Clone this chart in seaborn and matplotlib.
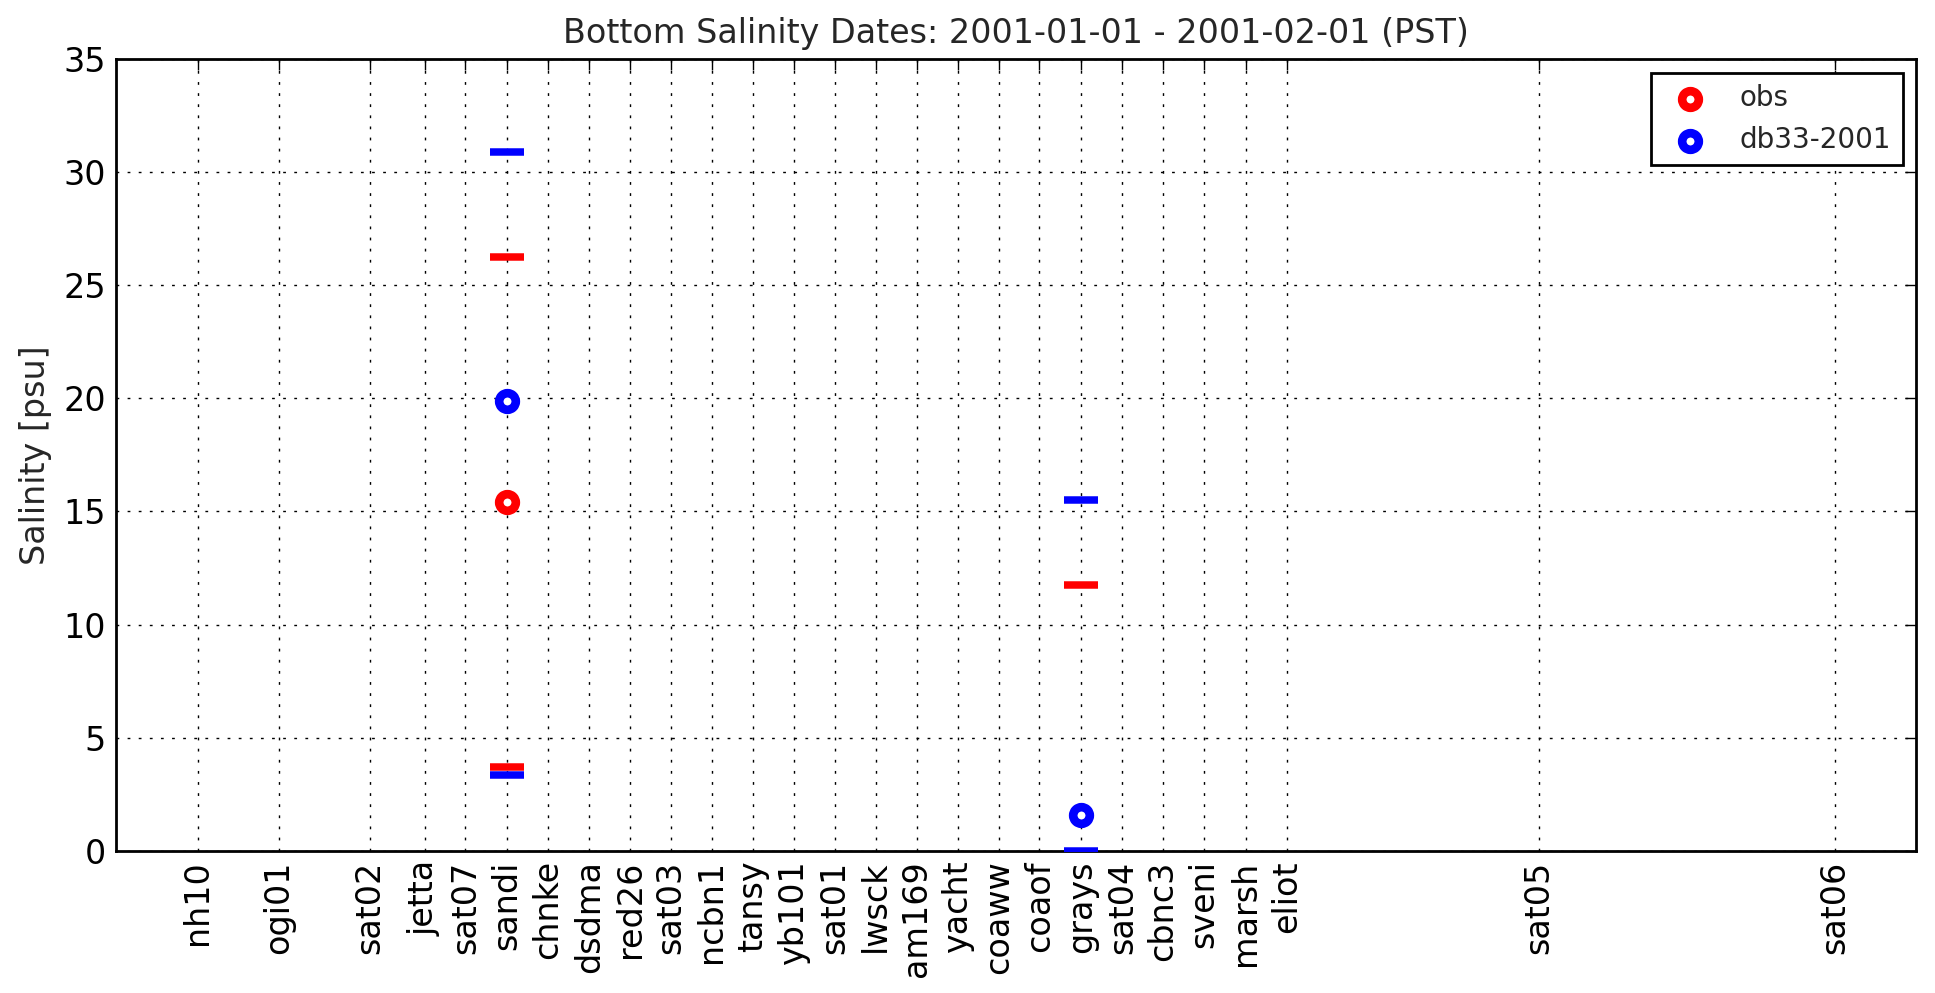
import numpy as np
import pandas as pd
import matplotlib
matplotlib.use('Agg')
import matplotlib.pyplot as plt
import seaborn as sns

###############################################################################
# Data
###############################################################################
stations = ['nh10', 'ogi01', 'sat02', 'jetta', 'sat07', 'sandi', 'chnke',
            'dsdma', 'red26', 'sat03', 'ncbn1', 'tansy', 'yb101', 'sat01',
            'lwsck', 'am169', 'yacht', 'coaww', 'coaof', 'grays', 'sat04',
            'cbnc3', 'sveni', 'marsh', 'eliot', 'sat05', 'sat06']
station_x = [2.00, 3.98, 6.18, 7.52, 8.51, 9.52, 10.52, 11.53, 12.52, 13.51,
             14.51, 15.50, 16.50, 17.50, 18.50, 19.50, 20.49, 21.49, 22.48,
             23.50, 24.50, 25.49, 26.49, 27.50, 28.50, 34.64, 41.83]
X_MAX = 43.82
# Only two stations carry data this month
data_stations = ['sandi', 'grays']
obs_mean = [15.43, np.nan]
obs_hi = [26.26, 11.73]
obs_lo = [3.68, np.nan]
mod_mean = [19.87, 1.59]
mod_hi = [30.88, 15.49]
mod_lo = [3.34, 0.0]
yticks = [0, 5, 10, 15, 20, 25, 30, 35]

xpos = dict(zip(stations, station_x))
df = pd.DataFrame({
    'x': [xpos[s] for s in data_stations],
    'obs': obs_mean, 'obs_hi': obs_hi, 'obs_lo': obs_lo,
    'mod': mod_mean, 'mod_hi': mod_hi, 'mod_lo': mod_lo,
})

###############################################################################
# Style
###############################################################################
sns.set_style('white')
plt.rcParams.update({
    'font.family': ['DejaVu Sans'],
    'axes.linewidth': 1.0,
    'axes.edgecolor': 'k',
    'xtick.direction': 'in', 'ytick.direction': 'in',
    'xtick.top': True, 'ytick.right': True,
    'xtick.major.size': 4, 'ytick.major.size': 4,
    'xtick.major.width': 0.5, 'ytick.major.width': 0.5,
    'xtick.color': 'k', 'ytick.color': 'k',
})

fig = plt.figure(figsize=(9.675, 4.965), dpi=200)
ax = fig.add_axes([0.0597, 0.1434, 0.9307, 0.7969])

# Range bars ------------------------------------------------------------------
for col, c in (('obs_hi', 'red'), ('obs_lo', 'red'),
               ('mod_hi', 'blue'), ('mod_lo', 'blue')):
    sns.scatterplot(data=df, x='x', y=col, marker='_', s=12.5**2,
                    linewidth=2.7, color=c, ax=ax, zorder=3)
# Means -----------------------------------------------------------------------
sns.scatterplot(data=df, x='x', y='obs', marker='o', s=6**2, color='red',
                facecolor='white', edgecolor='red', linewidth=3.1,
                label='obs', ax=ax, zorder=4)
sns.scatterplot(data=df, x='x', y='mod', marker='o', s=6**2, color='blue',
                facecolor='white', edgecolor='blue', linewidth=3.1,
                label='db33-2001', ax=ax, zorder=4)

ax.set_xlim(0, X_MAX)
ax.set_ylim(0, 35)
ax.set_xticks(station_x)
ax.set_xticklabels(stations, rotation=90, fontsize=12)
ax.set_yticks(yticks)
ax.set_yticklabels([str(v) for v in yticks], fontsize=12)
ax.set_xlabel('')
ax.set_ylabel('Salinity [psu]', fontsize=12)
ax.set_title('Bottom Salinity Dates: 2001-01-01 - 2001-02-01 (PST)', fontsize=12)
ax.grid(True, color='k', linewidth=0.5, linestyle=(0, (2, 6)))
ax.set_axisbelow(True)

leg = ax.legend(loc='upper right', scatterpoints=1, fontsize=10,
                fancybox=False, frameon=True, borderaxespad=0.5)
leg.get_frame().set_edgecolor('k')
leg.get_frame().set_linewidth(1.0)
leg.get_frame().set_alpha(1)

plt.savefig('out.png', dpi=200)
plt.close('all')
